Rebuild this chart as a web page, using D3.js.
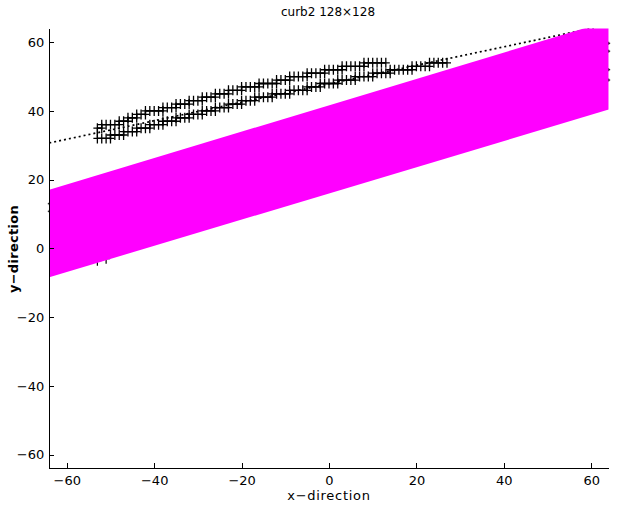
<!DOCTYPE html>
<html>
<head>
<meta charset="utf-8">
<script src="https://cdn.jsdelivr.net/npm/d3@7"></script>
<style>
    body { margin: 0; background: #fff; }
    text { font-family: "DejaVu Sans", sans-serif; fill: #000; }
</style>
</head>
<body>
<svg id="chart" width="625" height="505"></svg>
<script>
    // ---- data ----
    var titleText = "curb2 128\u00d7128";
    var xTicks = [-60, -40, -20, 0, 20, 40, 60];
    var yTicks = [-60, -40, -20, 0, 20, 40, 60];

    // band (magenta) corners: x, top y, bottom y
    var bandX = [-64, 64];
    var bandTop = [17.1, 66.2];
    var bandBottom = [-8.4, 40.4];

    // fitted dotted line
    var lineX = [-64, 60.6];
    var lineY = [30.7, 64.2];

    // curb edge chains as runs: [y, xStart, xEnd]
    var lowerRuns = [
        [32, -53, -50], [33, -50, -47], [34, -47, -44], [35, -44, -41],
        [36, -41, -38], [37, -38, -35], [38, -35, -32], [39, -32, -29],
        [40, -29, -26], [41, -26, -23], [42, -23, -20], [43, -20, -17],
        [44, -17, -13], [45, -13, -9], [46, -9, -5], [47, -5, -2],
        [48, -2, 2], [49, 2, 6], [50, 6, 10], [51, 10, 14],
        [52, 14, 19], [53, 19, 23], [54, 23, 27]
    ];
    var upperRuns = [
        [35, -53, -52], [36, -52, -48], [37, -48, -46], [38, -46, -44],
        [39, -44, -42], [40, -42, -38], [41, -38, -35], [42, -35, -32],
        [43, -32, -29], [44, -29, -26], [45, -26, -23], [46, -23, -20],
        [47, -20, -16], [48, -16, -12], [49, -12, -9], [50, -9, -5],
        [51, -5, -1], [52, -1, 3], [53, 3, 8], [54, 8, 13]
    ];

    // markers mostly hidden under the band, only their arms peek out
    var hiddenBig = [[-53, -3.6], [-51, -3.0]];
    var hiddenSmall = [[64, 59.7], [64, 57.4], [64, 52], [64, 49], [-64, 10.8], [-64, 13]];

    // ---- layout ----
    var svg = d3.select("#chart");
    var x = d3.scaleLinear().domain([-64, 64]).range([49.3, 608.7]);
    var y = d3.scaleLinear().domain([-64, 64]).range([468.3, 28.5]);

    svg.append("defs").append("clipPath")
        .attr("id", "plotclip")
        .append("rect")
        .attr("x", x(-64)).attr("y", y(64))
        .attr("width", x(64) - x(-64))
        .attr("height", y(-64) - y(64));

    function runsToPoints(runs) {
        var pts = [];
        runs.forEach(function (r) {
            for (var k = r[1]; k <= r[2]; k++) pts.push([k, r[0]]);
        });
        return pts;
    }

    function plusPath(d, sx, sy) {
        var cx = x(d[0]), cy = y(d[1]);
        return "M" + (cx - sx) + "," + cy + "H" + (cx + sx) + "M" + cx + "," + (cy - sy) + "V" + (cy + sy);
    }

    // hidden markers
    svg.append("g").selectAll("path.hb")
        .data(hiddenBig).enter().append("path")
        .attr("d", function (d) { return plusPath(d, 4, 5); })
        .attr("stroke", "#000").attr("stroke-width", 1.2).attr("fill", "none");
    svg.append("g").selectAll("path.hs")
        .data(hiddenSmall).enter().append("path")
        .attr("d", function (d) { return plusPath(d, 1.5, 1.5); })
        .attr("stroke", "#000").attr("stroke-width", 1).attr("fill", "none");

    // dotted fitted line (under the band)
    var linePts = lineX.map(function (v, i) { return [v, lineY[i]]; });
    svg.append("path")
        .datum(linePts)
        .attr("clip-path", "url(#plotclip)")
        .attr("d", d3.line().x(function (d) { return x(d[0]); }).y(function (d) { return y(d[1]); }))
        .attr("fill", "none")
        .attr("stroke", "#000")
        .attr("stroke-width", 1.7)
        .attr("stroke-dasharray", "2,3");

    // magenta band
    var bandPts = [
        [bandX[0], bandTop[0]], [bandX[1], bandTop[1]],
        [bandX[1], bandBottom[1]], [bandX[0], bandBottom[0]]
    ];
    svg.append("polygon")
        .attr("clip-path", "url(#plotclip)")
        .attr("points", bandPts.map(function (d) { return x(d[0]) + "," + y(d[1]); }).join(" "))
        .attr("fill", "#ff00ff");

    // curb edge chain: lower right-to-left, then up and along upper
    var chain = runsToPoints(lowerRuns).reverse().concat(runsToPoints(upperRuns));
    svg.append("path")
        .datum(chain)
        .attr("d", d3.line().x(function (d) { return x(d[0]); }).y(function (d) { return y(d[1]); }))
        .attr("fill", "none")
        .attr("stroke", "#000")
        .attr("stroke-width", 1.3);
    svg.append("g").selectAll("path")
        .data(chain).enter().append("path")
        .attr("d", function (d) { return plusPath(d, 4, 5); })
        .attr("stroke", "#000").attr("stroke-width", 1.3).attr("fill", "none");

    // axes (ticks pointing inward, no box)
    var xAxis = d3.axisBottom(x).tickValues(xTicks).tickSizeInner(-5).tickSizeOuter(0).tickPadding(7.5);
    var yAxis = d3.axisLeft(y).tickValues(yTicks).tickSizeInner(-5).tickSizeOuter(0).tickPadding(5);

    var gx = svg.append("g")
        .attr("transform", "translate(0," + y(-64) + ")")
        .call(xAxis);
    var gy = svg.append("g")
        .attr("transform", "translate(" + x(-64) + ",0)")
        .call(yAxis);

    [gx, gy].forEach(function (g) {
        g.selectAll("path, line").attr("stroke", "#000").attr("stroke-width", 1).attr("shape-rendering", "crispEdges");
        g.selectAll("text").style("font-family", "DejaVu Sans").style("font-size", "13px").attr("fill", "#000");
        g.selectAll("text").text(function (d) { return d < 0 ? "\u2212" + Math.abs(d) : d; });
    });

    // title and labels
    svg.append("text")
        .attr("x", 328).attr("y", 16)
        .attr("text-anchor", "middle")
        .style("font-size", "12px")
        .text(titleText);

    svg.append("text")
        .attr("x", 329).attr("y", 500)
        .attr("text-anchor", "middle")
        .style("font-size", "13px")
        .style("letter-spacing", "0.7px")
        .text("x\u2212direction");

    svg.append("text")
        .attr("transform", "translate(18,249) rotate(-90)")
        .attr("text-anchor", "middle")
        .style("font-size", "13px")
        .style("font-weight", "bold")
        .style("letter-spacing", "0.3px")
        .text("y\u2212direction");
</script>
</body>
</html>
